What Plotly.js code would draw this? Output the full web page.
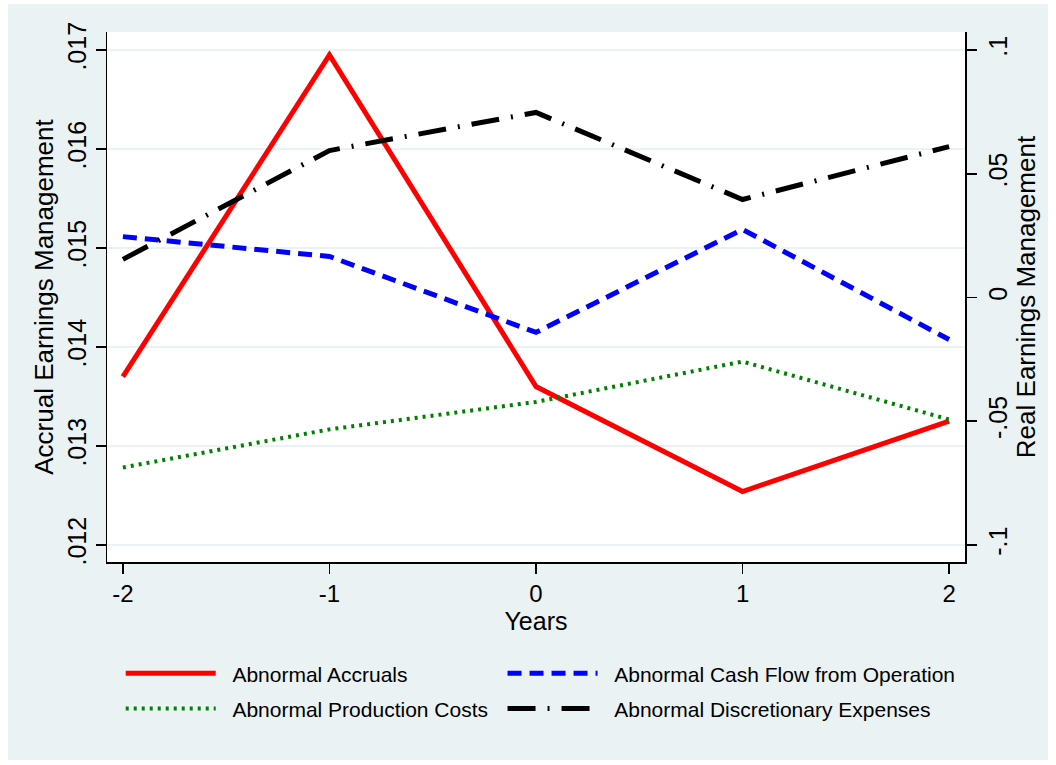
<!DOCTYPE html>
<html>
<head>
<meta charset="utf-8">
<script src="https://cdn.plot.ly/plotly-3.0.1.min.js"></script>
<style>
html,body{margin:0;padding:0;background:#ffffff;}
#chart{position:absolute;left:8px;top:4px;width:1040px;height:756px;}
</style>
</head>
<body>
<div id="chart"></div>
<script>
const years = [-2, -1, 0, 1, 2];
const abnormalAccruals = [0.01370, 0.01695, 0.01360, 0.01254, 0.01325];
const abnormalCFO = [0.0246, 0.0166, -0.0141, 0.0275, -0.0170];
const abnormalProduction = [-0.0687, -0.0533, -0.0422, -0.0259, -0.0493];
const abnormalDiscretionary = [0.0154, 0.0594, 0.0748, 0.0396, 0.0610];
const xTicks = [-2, -1, 0, 1, 2];
const leftTicks = [0.012, 0.013, 0.014, 0.015, 0.016, 0.017];
const leftTickText = ['.012', '.013', '.014', '.015', '.016', '.017'];
const rightTicks = [-0.1, -0.05, 0, 0.05, 0.1];
const rightTickText = ['-.1', '-.05', '0', '.05', '.1'];
const seriesNames = ['Abnormal Accruals', 'Abnormal Cash Flow from Operation',
                     'Abnormal Production Costs', 'Abnormal Discretionary Expenses'];

const FONT = 'Liberation Sans, Arial, sans-serif';
const pad = '\u00a0\u00a0';

const traces = [
  {x: years, y: abnormalAccruals, name: pad + seriesNames[0], mode: 'lines', yaxis: 'y',
   legend: 'legend', legendgroup: 'a',
   line: {color: '#ff0000', width: 5, dash: 'solid'}},
  {x: years, y: abnormalCFO, name: pad + seriesNames[1], mode: 'lines', yaxis: 'y2',
   legend: 'legend2', legendgroup: 'b',
   line: {color: '#0000ff', width: 5, dash: '14px,8px'}},
  {x: years, y: abnormalProduction, name: pad + seriesNames[2], mode: 'lines', yaxis: 'y2',
   legend: 'legend', legendgroup: 'c',
   line: {color: '#008000', width: 4, dash: '3px,5px'}},
  {x: years, y: abnormalDiscretionary, name: pad + seriesNames[3], mode: 'lines', yaxis: 'y2',
   legend: 'legend2', legendgroup: 'd',
   line: {color: '#000000', width: 5, dash: '28px,12px,2px,12px'}}
];

const legendBase = {
  orientation: 'v',
  xanchor: 'left',
  y: -0.172, yanchor: 'top',
  bgcolor: 'rgba(0,0,0,0)',
  font: {size: 21},
  traceorder: 'grouped',
  tracegroupgap: 5,
  itemwidth: 90
};

const layout = {
  width: 1040, height: 756,
  paper_bgcolor: '#eaf2f3',
  plot_bgcolor: '#ffffff',
  font: {family: FONT, color: '#000000', size: 24},
  margin: {l: 99, r: 83, t: 28, b: 198},
  showlegend: true,
  xaxis: {
    range: [-2.077, 2.077],
    tickvals: xTicks, ticktext: xTicks.map(String),
    showgrid: false, zeroline: false,
    showline: true, linecolor: '#000000', linewidth: 1.5,
    ticks: 'outside', ticklen: 10, tickwidth: 1.5, tickcolor: '#000000',
    tickfont: {size: 24},
    title: {text: 'Years', font: {size: 25}, standoff: 0}
  },
  yaxis: {
    range: [0.011828, 0.017182],
    tickvals: leftTicks, ticktext: leftTickText,
    tickangle: -90,
    showgrid: true, gridcolor: '#eaf2f3', gridwidth: 2,
    zeroline: false,
    showline: true, linecolor: '#000000', linewidth: 1.5,
    ticks: 'outside', ticklen: 10, tickwidth: 1.5, tickcolor: '#000000',
    tickfont: {size: 25},
    title: {text: 'Accrual Earnings Management', font: {size: 26}, standoff: 1}
  },
  yaxis2: {
    overlaying: 'y', side: 'right',
    range: [-0.1069, 0.1073],
    tickvals: rightTicks, ticktext: rightTickText,
    tickangle: -90,
    showgrid: false, zeroline: false,
    showline: true, linecolor: '#000000', linewidth: 1.5,
    ticks: 'outside', ticklen: 10, tickwidth: 1.5, tickcolor: '#000000',
    tickfont: {size: 25},
    title: {text: 'Real Earnings Management', font: {size: 26}, standoff: 0}
  },
  legend: Object.assign({}, legendBase, {x: 0.016}),
  legend2: Object.assign({}, legendBase, {x: 0.461})
};

Plotly.newPlot('chart', traces, layout, {displayModeBar: false, staticPlot: true});
</script>
</body>
</html>
